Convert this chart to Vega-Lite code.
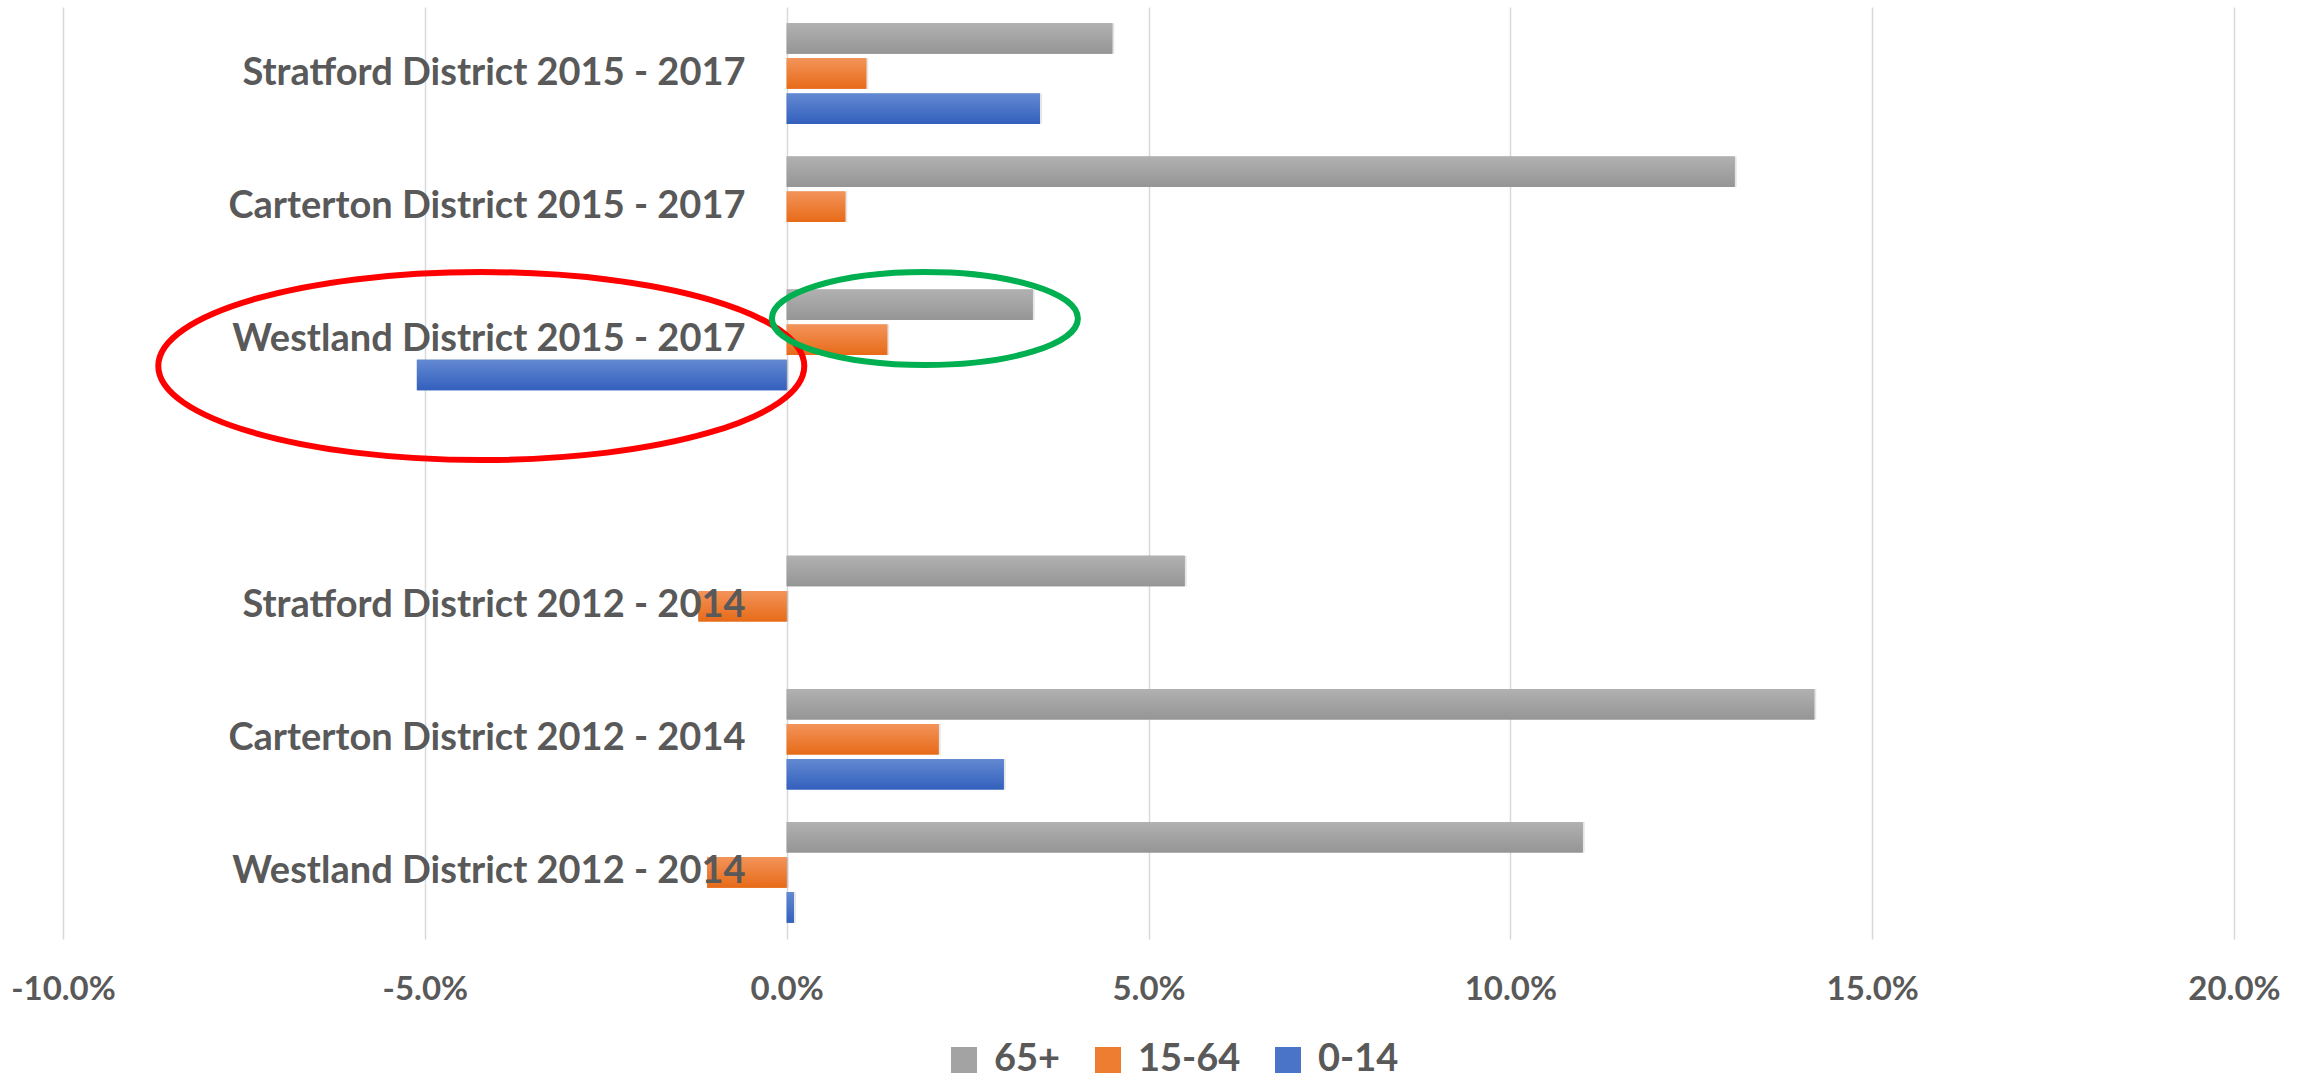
{
  "$schema": "https://vega.github.io/schema/vega-lite/v6.json",
  "autosize": {"type": "none"},
  "width": 2171,
  "height": 932,
  "padding": {"left": 63, "top": 7, "right": 71, "bottom": 142},
  "background": "#ffffff",
  "config": {
    "view": {"stroke": null},
    "font": "Lato"
  },
  "datasets": {
    "bars": [
      {"category": "Stratford District 2015 - 2017", "age": "65+", "value": 0.0450},
      {"category": "Stratford District 2015 - 2017", "age": "15-64", "value": 0.0110},
      {"category": "Stratford District 2015 - 2017", "age": "0-14", "value": 0.0350},
      {"category": "Carterton District 2015 - 2017", "age": "65+", "value": 0.1310},
      {"category": "Carterton District 2015 - 2017", "age": "15-64", "value": 0.0081},
      {"category": "Westland District 2015 - 2017", "age": "65+", "value": 0.0340},
      {"category": "Westland District 2015 - 2017", "age": "15-64", "value": 0.0139},
      {"category": "Westland District 2015 - 2017", "age": "0-14", "value": -0.0511},
      {"category": "Stratford District 2012 - 2014", "age": "65+", "value": 0.0550},
      {"category": "Stratford District 2012 - 2014", "age": "15-64", "value": -0.0122},
      {"category": "Carterton District 2012 - 2014", "age": "65+", "value": 0.1420},
      {"category": "Carterton District 2012 - 2014", "age": "15-64", "value": 0.0210},
      {"category": "Carterton District 2012 - 2014", "age": "0-14", "value": 0.0300},
      {"category": "Westland District 2012 - 2014", "age": "65+", "value": 0.1100},
      {"category": "Westland District 2012 - 2014", "age": "15-64", "value": -0.0110},
      {"category": "Westland District 2012 - 2014", "age": "0-14", "value": 0.0010}
    ],
    "redRing": [
      {"category": "Westland District 2015 - 2017", "value": -0.0422}
    ],
    "greenRing": [
      {"category": "Westland District 2015 - 2017", "value": 0.0191}
    ]
  },
  "layer": [
    {
      "data": {"name": "bars"},
      "mark": {"type": "bar", "color": "#000000", "opacity": 0.1, "xOffset": 2, "yOffset": 4},
      "encoding": {
        "y": {
          "field": "category",
          "type": "nominal",
          "scale": {
            "domain": [
              "Stratford District 2015 - 2017",
              "Carterton District 2015 - 2017",
              "Westland District 2015 - 2017",
              " ",
              "Stratford District 2012 - 2014",
              "Carterton District 2012 - 2014",
              "Westland District 2012 - 2014"
            ],
            "paddingInner": 0.244,
            "paddingOuter": 0.122
          },
          "axis": {
            "title": null,
            "domain": false,
            "ticks": false,
            "tickSize": 0,
            "grid": false,
            "offset": -724,
            "labelPadding": 42,
            "labelAlign": "right",
            "labelBaseline": "middle",
            "labelFont": "Lato",
            "labelFontSize": 38,
            "labelFontWeight": "bold",
            "labelColor": "#595959",
            "labelLimit": 1200,
            "zindex": 1
          }
        },
        "yOffset": {
          "field": "age",
          "type": "nominal",
          "sort": ["65+", "15-64", "0-14"],
          "scale": {"domain": ["65+", "15-64", "0-14"], "paddingInner": 0.13, "paddingOuter": 0}
        },
        "x": {
          "field": "value",
          "type": "quantitative",
          "scale": {"domain": [-0.1, 0.2], "nice": false, "zero": false},
          "axis": {
            "title": null,
            "values": [-0.1, -0.05, 0, 0.05, 0.1, 0.15, 0.2],
            "labelExpr": "replace(format(datum.value, '.1%'), '\u2212', '-')",
            "domain": false,
            "ticks": false,
            "grid": true,
            "gridColor": "#d9d9d9",
            "gridWidth": 1.5,
            "labelPadding": 34,
            "labelFont": "Lato",
            "labelFontSize": 33,
            "labelFontWeight": "bold",
            "labelColor": "#595959",
            "labelFlush": false,
            "zindex": 0
          }
        }
      }
    },
    {
      "data": {"name": "bars"},
      "mark": {"type": "bar"},
      "encoding": {
        "y": {"field": "category", "type": "nominal"},
        "yOffset": {"field": "age", "type": "nominal"},
        "x": {"field": "value", "type": "quantitative"},
        "color": {
          "field": "age",
          "type": "nominal",
          "sort": ["65+", "15-64", "0-14"],
          "scale": {
            "domain": ["65+", "15-64", "0-14"],
            "range": ["#a3a3a3", "#ee7d31", "#4a74c8"]
          },
          "legend": {
            "title": null,
            "orient": "none",
            "legendX": 882,
            "legendY": 1034,
            "padding": 0,
            "direction": "horizontal",
            "symbolType": "square",
            "symbolSize": 676,
            "symbolStrokeWidth": 0,
            "symbolOpacity": 1,
            "labelFont": "Lato",
            "labelFontSize": 38,
            "labelFontWeight": "bold",
            "labelColor": "#595959",
            "labelOffset": 11,
            "columnPadding": 28
          }
        }
      }
    },
    {
      "data": {"name": "bars"},
      "transform": [{"filter": "datum.age == '65+'"}],
      "mark": {
        "type": "bar",
        "color": {"gradient": "linear", "x1": 0, "y1": 0, "x2": 0, "y2": 1, "stops": [{"offset": 0, "color": "#b1b1b1"}, {"offset": 1, "color": "#959595"}]}
      },
      "encoding": {
        "y": {"field": "category", "type": "nominal"},
        "yOffset": {"field": "age", "type": "nominal"},
        "x": {"field": "value", "type": "quantitative"}
      }
    },
    {
      "data": {"name": "bars"},
      "transform": [{"filter": "datum.age == '15-64'"}],
      "mark": {
        "type": "bar",
        "color": {"gradient": "linear", "x1": 0, "y1": 0, "x2": 0, "y2": 1, "stops": [{"offset": 0, "color": "#f3935a"}, {"offset": 1, "color": "#e76b18"}]}
      },
      "encoding": {
        "y": {"field": "category", "type": "nominal"},
        "yOffset": {"field": "age", "type": "nominal"},
        "x": {"field": "value", "type": "quantitative"}
      }
    },
    {
      "data": {"name": "bars"},
      "transform": [{"filter": "datum.age == '0-14'"}],
      "mark": {
        "type": "bar",
        "color": {"gradient": "linear", "x1": 0, "y1": 0, "x2": 0, "y2": 1, "stops": [{"offset": 0, "color": "#6389d2"}, {"offset": 1, "color": "#3360bd"}]}
      },
      "encoding": {
        "y": {"field": "category", "type": "nominal"},
        "yOffset": {"field": "age", "type": "nominal"},
        "x": {"field": "value", "type": "quantitative"}
      }
    },
    {
      "data": {"name": "redRing"},
      "mark": {
        "type": "point",
        "shape": "M -1 0 A 1 0.291 0 1 0 1 0 A 1 0.291 0 1 0 -1 0 Z",
        "size": 417316,
        "filled": false,
        "stroke": "#ff0000",
        "strokeWidth": 6,
        "opacity": 1
      },
      "encoding": {
        "y": {"field": "category", "type": "nominal", "bandPosition": 0.76},
        "x": {"field": "value", "type": "quantitative"}
      }
    },
    {
      "data": {"name": "greenRing"},
      "mark": {
        "type": "point",
        "shape": "M -1 0 A 1 0.304 0 1 0 1 0 A 1 0.304 0 1 0 -1 0 Z",
        "size": 93636,
        "filled": false,
        "stroke": "#00b050",
        "strokeWidth": 6,
        "opacity": 1
      },
      "encoding": {
        "y": {"field": "category", "type": "nominal", "bandPosition": 0.288},
        "x": {"field": "value", "type": "quantitative"}
      }
    }
  ]
}
